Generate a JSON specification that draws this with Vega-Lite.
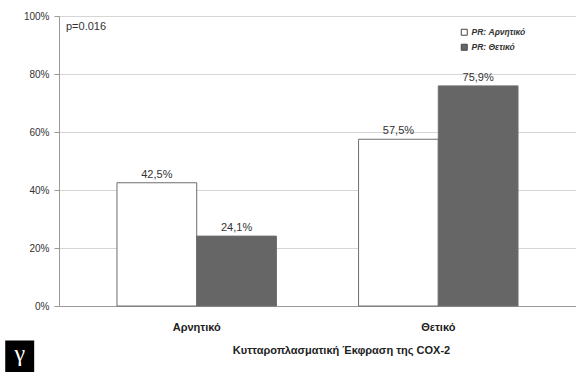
{
  "$schema": "https://vega.github.io/schema/vega-lite/v6.json",
  "width": 517,
  "height": 290,
  "autosize": {"type": "none"},
  "padding": {"left": 59, "top": 16, "right": 0, "bottom": 68},
  "background": "white",
  "config": {
    "font": "Liberation Sans",
    "view": {"stroke": null},
    "locale": {
      "number": {"decimal": ",", "thousands": ".", "grouping": [3], "currency": ["", " €"]}
    }
  },
  "title": {
    "text": "p=0.016",
    "anchor": "start",
    "frame": "group",
    "orient": "top",
    "offset": -21,
    "dx": 7,
    "fontSize": 11,
    "fontWeight": "normal",
    "color": "#333333"
  },
  "layer": [
    {
      "data": {
        "values": [
          {"cox": "Αρνητικό", "pr": "PR: Αρνητικό", "v": 0.425},
          {"cox": "Αρνητικό", "pr": "PR: Θετικό", "v": 0.241},
          {"cox": "Θετικό", "pr": "PR: Αρνητικό", "v": 0.575},
          {"cox": "Θετικό", "pr": "PR: Θετικό", "v": 0.759}
        ]
      },
      "encoding": {
        "x": {
          "field": "cox",
          "type": "nominal",
          "sort": ["Αρνητικό", "Θετικό"],
          "scale": {"paddingInner": 0.34, "paddingOuter": 0.24},
          "axis": {
            "title": "Κυτταροπλασματική Έκφραση της COX-2",
            "labelAngle": 0,
            "ticks": false,
            "grid": false,
            "domainColor": "#999999",
            "labelFontSize": 11,
            "labelFontWeight": "bold",
            "labelColor": "#222222",
            "labelPadding": 15,
            "titleFontSize": 11,
            "titleFontWeight": "bold",
            "titleColor": "#222222",
            "titlePadding": 12,
            "titleX": 282,
            "titleAlign": "center"
          }
        },
        "xOffset": {
          "field": "pr",
          "type": "nominal",
          "sort": ["PR: Αρνητικό", "PR: Θετικό"],
          "scale": {"paddingInner": 0, "paddingOuter": 0}
        },
        "y": {
          "field": "v",
          "type": "quantitative",
          "scale": {"domain": [0, 1], "nice": false},
          "axis": {
            "title": null,
            "format": ".0%",
            "values": [0, 0.2, 0.4, 0.6, 0.8, 1],
            "grid": true,
            "gridColor": "#d6d6d6",
            "domainColor": "#999999",
            "tickColor": "#999999",
            "tickSize": 5,
            "labelFontSize": 10,
            "labelColor": "#333333",
            "labelPadding": 5
          }
        }
      },
      "layer": [
        {
          "mark": {"type": "bar", "stroke": "#6e6e6e", "strokeWidth": 1},
          "encoding": {
            "color": {
              "field": "pr",
              "type": "nominal",
              "sort": ["PR: Αρνητικό", "PR: Θετικό"],
              "scale": {"range": ["#ffffff", "#666666"]},
              "legend": {
                "title": null,
                "orient": "none",
                "legendX": 401,
                "legendY": 12,
                "symbolType": "square",
                "symbolSize": 36,
                "symbolStrokeColor": "#444444",
                "symbolStrokeWidth": 1,
                "labelFontSize": 8.5,
                "labelFontStyle": "italic",
                "labelFontWeight": "bold",
                "labelColor": "#333333",
                "rowPadding": 4,
                "labelOffset": 3
              }
            }
          }
        },
        {
          "mark": {
            "type": "text",
            "baseline": "bottom",
            "dy": -3,
            "fontSize": 11,
            "color": "#333333"
          },
          "encoding": {
            "text": {"field": "v", "type": "quantitative", "format": ".1%"}
          }
        }
      ]
    },
    {
      "data": {"values": [{"tag": "γ"}]},
      "layer": [
        {
          "mark": {"type": "rect", "color": "#000000"},
          "encoding": {
            "x": {"datum": -0.104, "type": "quantitative", "scale": {"domain": [0, 1], "nice": false, "zero": false}, "axis": null},
            "x2": {"datum": -0.048},
            "y": {"datum": -0.119, "type": "quantitative"},
            "y2": {"datum": -0.228}
          }
        },
        {
          "mark": {
            "type": "text",
            "color": "#ffffff",
            "font": "Liberation Serif",
            "fontSize": 24,
            "baseline": "middle",
            "align": "center",
            "dy": -2
          },
          "encoding": {
            "x": {"datum": -0.076, "type": "quantitative", "scale": {"domain": [0, 1], "nice": false, "zero": false}, "axis": null},
            "y": {"datum": -0.174, "type": "quantitative"},
            "text": {"field": "tag", "type": "nominal"}
          }
        }
      ]
    }
  ],
  "resolve": {"scale": {"x": "independent"}}
}
